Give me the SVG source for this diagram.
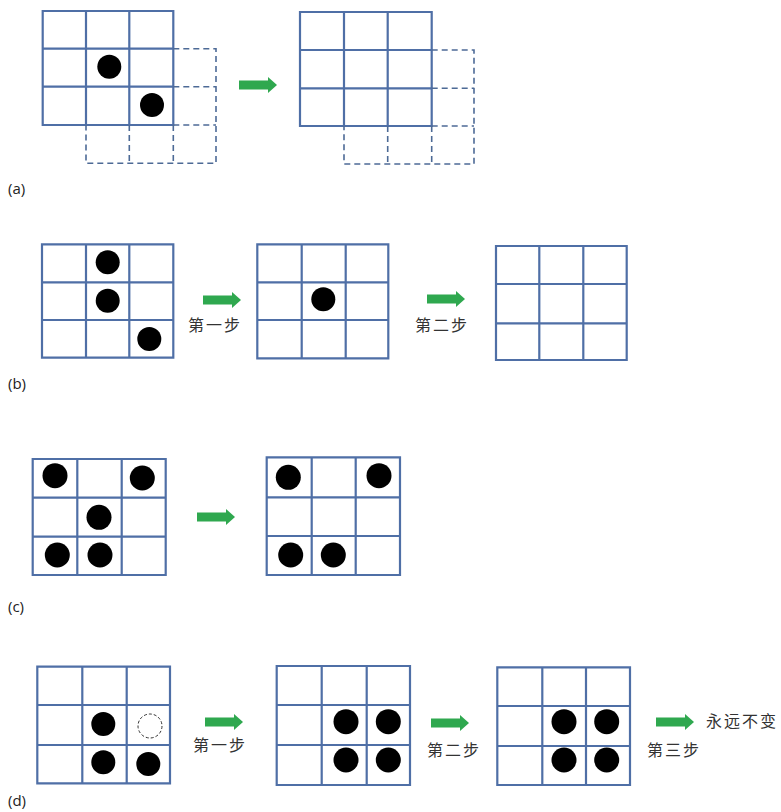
<svg xmlns="http://www.w3.org/2000/svg" width="781" height="812" viewBox="0 0 781 812">
<style>
.g{fill:none;stroke:#4f6fa6;stroke-width:2.2}
.d{fill:none;stroke:#4d6a96;stroke-width:1.6;stroke-dasharray:6 4}
.dot{fill:#000}
.ghost{fill:none;stroke:#333;stroke-width:1;stroke-dasharray:3 2}
.lbl{font-family:"Open Sans","Liberation Sans",sans-serif;font-size:15px;fill:#222}
.cn{font-family:"Noto Sans CJK SC","Noto Sans CJK JP",sans-serif;font-size:16px;fill:#333;letter-spacing:2px}
.arr{fill:#2fa84f}
</style>
<defs>
<path id="arrow" d="M0,-4.5 H29 V-8 L38,0 L29,8 V4.5 H0 Z"/>
</defs>
<rect width="781" height="812" fill="#fff"/>

<g id="panel-a-left">
<path class="g" d="M42.7,11 H173.3 V125 H42.7 Z M86,11 V125 M129.3,11 V125 M42.7,48.7 H173.3 M42.7,86.7 H173.3"/>
<path class="d" d="M173.3,48.7 H216 V163.3 H86 V125 M173.3,86.7 H216 M173.3,125 H216 M129.3,125 V163.3 M173.3,125 V163.3"/>
<circle class="dot" cx="109.3" cy="66.7" r="12"/>
<circle class="dot" cx="152" cy="105" r="12"/>
</g>
<g id="panel-a-right">
<path class="g" d="M300,12 H431.7 V126 H300 Z M344,12 V126 M387.7,12 V126 M300,50 H431.7 M300,88.3 H431.7"/>
<path class="d" d="M431.7,50 H474 V164 H344 V126 M431.7,88.3 H474 M431.7,126 H474 M387.7,126 V164 M431.7,126 V164"/>
</g>
<text class="lbl" x="8" y="194">(a)</text>

<g id="panel-b-1">
<path class="g" d="M42,244.3 H173.3 V357.7 H42 Z M86,244.3 V357.7 M129.3,244.3 V357.7 M42,282.3 H173.3 M42,320 H173.3"/>
<circle class="dot" cx="107.7" cy="262.3" r="12"/>
<circle class="dot" cx="107.7" cy="300.7" r="12"/>
<circle class="dot" cx="149.3" cy="339" r="12"/>
</g>
<g id="panel-b-2">
<path class="g" d="M257.3,244.3 H388.3 V358.3 H257.3 Z M301.7,244.3 V358.3 M345.7,244.3 V358.3 M257.3,282.3 H388.3 M257.3,320 H388.3"/>
<circle class="dot" cx="323.3" cy="299.3" r="12"/>
</g>
<g id="panel-b-3">
<path class="g" d="M496,246 H626.7 V360 H496 Z M539.3,246 V360 M583.3,246 V360 M496,284 H626.7 M496,323.3 H626.7"/>
</g>
<text class="lbl" x="8" y="389">(b)</text>

<g id="panel-c-1">
<path class="g" d="M32.7,459 H165.7 V575 H32.7 Z M77.3,459 V575 M121.7,459 V575 M32.7,497.7 H165.7 M32.7,536.7 H165.7"/>
<circle class="dot" cx="55" cy="475.7" r="12.5"/>
<circle class="dot" cx="142.3" cy="478" r="12.5"/>
<circle class="dot" cx="99" cy="517.3" r="12.5"/>
<circle class="dot" cx="57.3" cy="555" r="12.5"/>
<circle class="dot" cx="100" cy="555" r="12.5"/>
</g>
<g id="panel-c-2">
<path class="g" d="M266.7,457.3 H400 V575 H266.7 Z M311.7,457.3 V575 M355.7,457.3 V575 M266.7,497.3 H400 M266.7,536 H400"/>
<circle class="dot" cx="288.3" cy="477.3" r="12.5"/>
<circle class="dot" cx="379" cy="475.7" r="12.5"/>
<circle class="dot" cx="290.7" cy="555" r="12.5"/>
<circle class="dot" cx="333.3" cy="555" r="12.5"/>
</g>
<text class="lbl" x="8" y="612">(c)</text>

<g id="panel-d-1">
<path class="g" d="M37.3,666.7 H170 V783.3 H37.3 Z M82.3,666.7 V783.3 M126.7,666.7 V783.3 M37.3,705 H170 M37.3,745 H170"/>
<circle class="dot" cx="103.3" cy="724" r="12"/>
<circle class="dot" cx="103.3" cy="762.3" r="12"/>
<circle class="dot" cx="148.3" cy="764" r="12"/>
<circle class="ghost" cx="150" cy="726" r="12"/>
</g>
<g id="panel-d-2">
<path class="g" d="M276.7,666 H410 V785 H276.7 Z M321.7,666 V785 M366.7,666 V785 M276.7,705 H410 M276.7,745 H410"/>
<circle class="dot" cx="346" cy="721.7" r="12.5"/>
<circle class="dot" cx="388.3" cy="721.7" r="12.5"/>
<circle class="dot" cx="346" cy="760" r="12.5"/>
<circle class="dot" cx="388.3" cy="760" r="12.5"/>
</g>
<g id="panel-d-3">
<path class="g" d="M497.3,667.3 H630 V785 H497.3 Z M542.3,667.3 V785 M586,667.3 V785 M497.3,706 H630 M497.3,746 H630"/>
<circle class="dot" cx="564" cy="721.7" r="12.5"/>
<circle class="dot" cx="606.7" cy="721.7" r="12.5"/>
<circle class="dot" cx="564" cy="760" r="12.5"/>
<circle class="dot" cx="606.7" cy="760" r="12.5"/>
</g>
<text class="lbl" x="8" y="806">(d)</text>

<g id="connectors">
<use href="#arrow" class="arr" x="239" y="85"/>
<use href="#arrow" class="arr" x="203" y="300"/>
<use href="#arrow" class="arr" x="427" y="299"/>
<use href="#arrow" class="arr" x="197" y="517"/>
<use href="#arrow" class="arr" x="205" y="722"/>
<use href="#arrow" class="arr" x="431" y="723"/>
<use href="#arrow" class="arr" x="656" y="722"/>
</g>

<g id="labels">
<text class="cn" x="188" y="331">第一步</text>
<text class="cn" x="415" y="331">第二步</text>
<text class="cn" x="193" y="751">第一步</text>
<text class="cn" x="427" y="756">第二步</text>
<text class="cn" x="647" y="756">第三步</text>
<text class="cn" x="706" y="727">永远不变</text>
</g>
</svg>
